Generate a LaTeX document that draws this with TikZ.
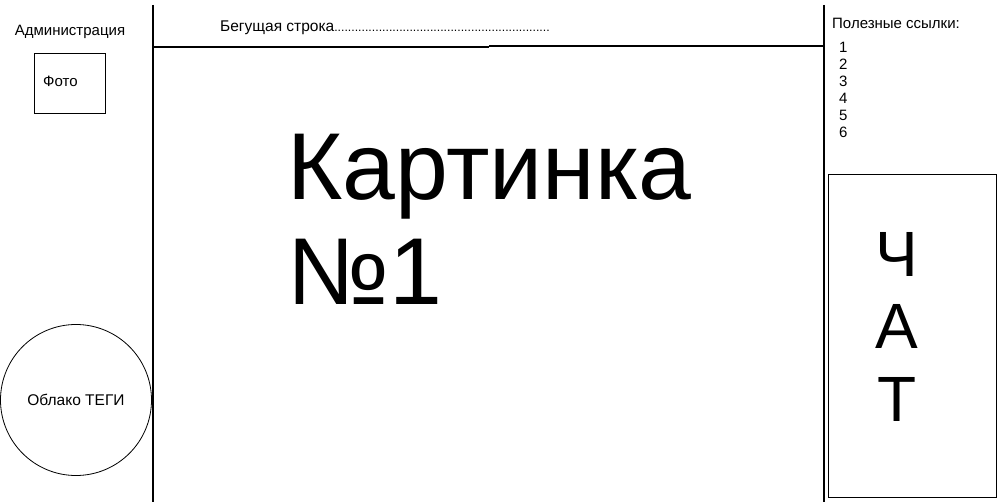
\documentclass[tikz,border=0pt]{standalone}
\usepackage{fontspec}
\setmainfont{Liberation Sans}
\begin{document}
\begin{tikzpicture}[x=1pt,y=-1pt,
  lbl/.style={inner sep=0pt,font=\fontsize{15}{17}\selectfont},
  big/.style={inner sep=0pt,font=\fontsize{95}{105}\selectfont},
  chat/.style={inner sep=0pt,font=\fontsize{64}{72}\selectfont},
  rule/.style={line width=1.1pt}]
\useasboundingbox (0,0) rectangle (1000,502);
% frame lines
\coordinate (lt) at (153,5);
\coordinate (lb) at (153,502);
\coordinate (rt) at (824,5);
\coordinate (rb) at (824,502);
\coordinate (h1) at (153,47);
\coordinate (h2) at (489,47);
\coordinate (h3) at (489,46);
\coordinate (h4) at (824,46);
\draw[rule] (lt) -- (lb);
\draw[rule] (rt) -- (rb);
\draw[rule] (h1) -- (h2);
\draw[rule] (h3) -- (h4);
% left column
\node[lbl,anchor=base] (adm) at (70,36) {Администрация};
\node[draw,line width=0.8pt,minimum width=71pt,minimum height=60pt,anchor=north west,inner sep=0pt] (photo) at (34,53) {};
\node[lbl,anchor=base west] (foto) at (43,87) {Фото};
\node[draw,circle,line width=0.8pt,minimum size=151pt,inner sep=0pt] (cloud) at (76,400) {};
\node[lbl,font=\fontsize{15.5}{17}\selectfont] (cloudt) at (cloud.center) {Облако ТЕГИ};
% ticker
\node[lbl,anchor=base west,font=\fontsize{15.5}{17}\selectfont] (ticker) at (220,32) {Бегущая строка{\fontsize{12.3}{14}\selectfont...............................................................}};
% main picture
\node[big,anchor=base west] (pic1) at (287,200) {Картинка};
\node[big,anchor=base west] (pic2) at (287,305) {№1};
% right column
\node[lbl,anchor=base west] (links) at (832,29) {Полезные ссылки:};
\foreach \i in {1,...,6}{
  \node[lbl,anchor=base west] (n\i) at (839,{35+17.1*\i}) {\i};
}
\node[draw,line width=0.8pt,minimum width=168pt,minimum height=323pt,anchor=north west,inner sep=0pt] (chatbox) at (828,174) {};
\node[chat,anchor=base] (c1) at (897,277) {Ч};
\node[chat,anchor=base] (c2) at (897,348) {А};
\node[chat,anchor=base] (c3) at (897,421) {Т};
\end{tikzpicture}
\end{document}
